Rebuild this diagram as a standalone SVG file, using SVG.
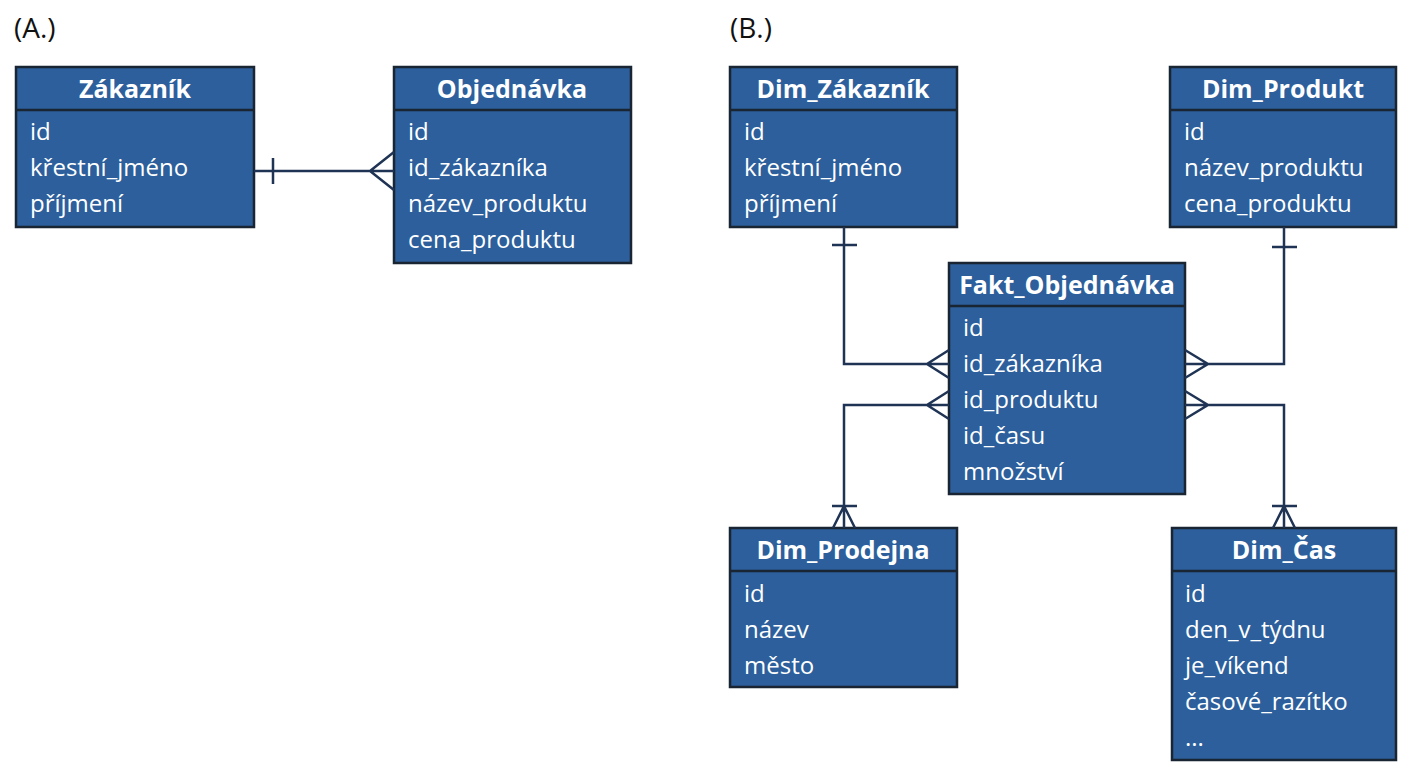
<svg xmlns="http://www.w3.org/2000/svg" width="1408" height="768" viewBox="0 0 1408 768">
<style>
.box{fill:#2c5f9c;stroke:#1a2533;stroke-width:2.5}
.sep{stroke:#1a2533;stroke-width:2.5}
.h{font-family:"Open Sans","Liberation Sans",sans-serif;font-weight:bold;font-size:25px;fill:#fff;text-anchor:middle}
.t{font-family:"Open Sans","Liberation Sans",sans-serif;font-size:24px;fill:#fff}
.lbl{font-family:"Open Sans","Liberation Sans",sans-serif;font-size:28px;fill:#111}
.c{fill:none;stroke:#1f3354;stroke-width:2.5}
</style>
<rect width="1408" height="768" fill="#fff"/>
<text class="lbl" x="14" y="38">(A.)</text>
<text class="lbl" x="730" y="38">(B.)</text>
<g id="zakaznik"><rect class="box" x="16" y="67" width="238" height="160"/><line class="sep" x1="16" y1="110" x2="254" y2="110"/>
<text class="h" x="135" y="98">Zákazník</text>
<text class="t" x="30" y="140">id</text><text class="t" x="30" y="176">křestní_jméno</text><text class="t" x="30" y="212">příjmení</text></g>
<g id="objednavka"><rect class="box" x="394" y="67" width="237" height="196"/><line class="sep" x1="394" y1="110" x2="631" y2="110"/>
<text class="h" x="512" y="98">Objednávka</text>
<text class="t" x="408" y="140">id</text><text class="t" x="408" y="176">id_zákazníka</text><text class="t" x="408" y="212">název_produktu</text><text class="t" x="408" y="248">cena_produktu</text></g>
<g id="dim_zakaznik"><rect class="box" x="730" y="67" width="227" height="160"/><line class="sep" x1="730" y1="110" x2="957" y2="110"/>
<text class="h" x="843" y="98">Dim_Zákazník</text>
<text class="t" x="744" y="140">id</text><text class="t" x="744" y="176">křestní_jméno</text><text class="t" x="744" y="212">příjmení</text></g>
<g id="dim_produkt"><rect class="box" x="1170" y="67" width="226" height="160"/><line class="sep" x1="1170" y1="110" x2="1396" y2="110"/>
<text class="h" x="1283" y="98">Dim_Produkt</text>
<text class="t" x="1184" y="140">id</text><text class="t" x="1184" y="176">název_produktu</text><text class="t" x="1184" y="212">cena_produktu</text></g>
<g id="fakt"><rect class="box" x="949" y="263" width="236" height="231"/><line class="sep" x1="949" y1="306" x2="1185" y2="306"/>
<text class="h" x="1067" y="294">Fakt_Objednávka</text>
<text class="t" x="963" y="336">id</text><text class="t" x="963" y="372">id_zákazníka</text><text class="t" x="963" y="408">id_produktu</text><text class="t" x="963" y="444">id_času</text><text class="t" x="963" y="480">množství</text></g>
<g id="dim_prodejna"><rect class="box" x="730" y="528" width="227" height="159"/><line class="sep" x1="730" y1="571" x2="957" y2="571"/>
<text class="h" x="843" y="559">Dim_Prodejna</text>
<text class="t" x="744" y="602">id</text><text class="t" x="744" y="638">název</text><text class="t" x="744" y="674">město</text></g>
<g id="dim_cas"><rect class="box" x="1172" y="528" width="224" height="232"/><line class="sep" x1="1172" y1="571" x2="1396" y2="571"/>
<text class="h" x="1284" y="559">Dim_Čas</text>
<text class="t" x="1185" y="602">id</text><text class="t" x="1185" y="638">den_v_týdnu</text><text class="t" x="1185" y="674">je_víkend</text><text class="t" x="1185" y="710">časové_razítko</text><text class="t" x="1185" y="746">...</text></g>
<g id="connectors">
<path class="c" d="M254 171H394M273 158V184M394 152L370 171L394 190"/>
<path class="c" d="M844 227V364H949M832 245H857M949 350L927 364L949 378"/>
<path class="c" d="M949 405H844V528M949 391L927 405L949 419M832 506H857M833 528L844 506L855 528"/>
<path class="c" d="M1284 227V364H1185M1272 247H1297M1185 350L1208 364L1185 378"/>
<path class="c" d="M1185 405H1284V528M1185 391L1208 405L1185 419M1272 506H1297M1273 528L1284 506L1295 528"/>
</g>
</svg>
